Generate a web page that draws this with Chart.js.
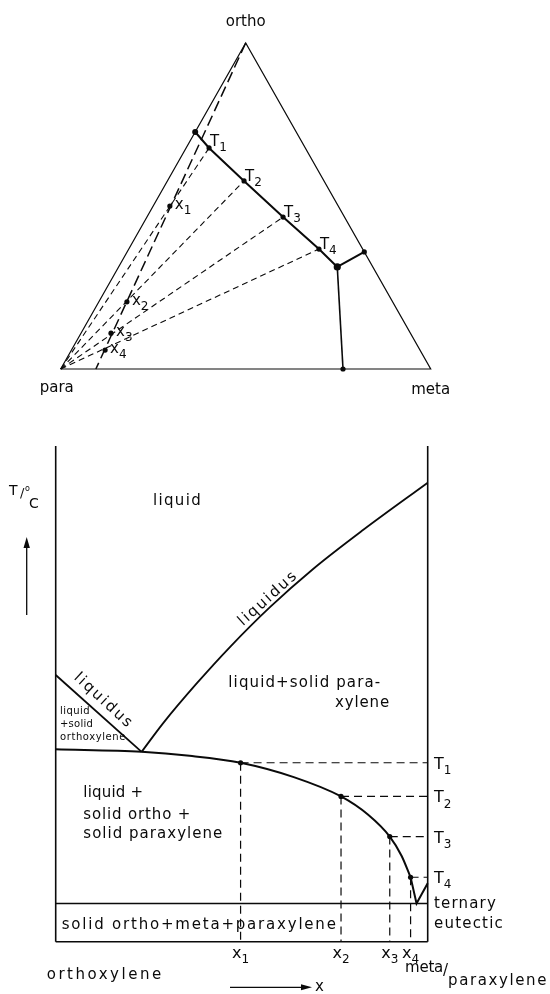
<!DOCTYPE html>
<html>
<head>
<meta charset="utf-8">
<script src="https://cdn.jsdelivr.net/npm/chart.js@4.4.1/dist/chart.umd.min.js"></script>
<style>
  html, body { margin: 0; padding: 0; background: #fff; }
  #wrap { position: relative; width: 550px; height: 994px; }
  canvas { position: absolute; left: 0; }
</style>
</head>
<body>
<div id="wrap">
  <canvas id="ternaryChart" width="550" height="400" style="top:0"></canvas>
  <canvas id="phaseChart" width="550" height="594" style="top:400px"></canvas>
</div>
<script>
// ---- ternary diagram, compositions as [meta, ortho] fractions (para is the rest)
const cornerPara = [0, 0];
const cornerMeta = [1, 0];
const cornerOrtho = [0, 1];
// ortho/para trough from the binary eutectic down to the ternary eutectic
const troughPoints = [[0, 0.727], [0.062, 0.678], [0.207, 0.577], [0.368, 0.466], [0.514, 0.368], [0.591, 0.313]];
const troughNames = ['', 'T1', 'T2', 'T3', 'T4', ''];
const orthoMetaEutectic = [0.641, 0.359];
const metaParaEutectic = [0.763, 0];
// section at constant meta/para ratio
const sectionEnd = [0.095, 0];
const sectionPoints = [[0.045, 0.500], [0.076, 0.206], [0.081, 0.110], [0.091, 0.058]];
const sectionNames = ['x1', 'x2', 'x3', 'x4'];

// ---- temperature section, x = fraction of meta/paraxylene, T in arbitrary units
const leftLiquidusX = [0, 0.231];
const leftLiquidusT = [53.8, 38.3];
const rightLiquidusX = [0.231, 0.289, 0.379, 0.469, 0.576, 0.692, 0.827, 1];
const rightLiquidusT = [38.3, 44.1, 52.1, 59.5, 67.5, 75.2, 83.1, 92.6];
const boundaryX = [0, 0.231, 0.36, 0.497, 0.64, 0.767, 0.84, 0.898, 0.93, 0.954];
const boundaryT = [38.8, 38.3, 37.5, 36.1, 33.2, 29.3, 25.6, 21.2, 17.3, 13.0];
const notchX = [0.954, 0.970, 1];
const notchT = [13.0, 7.7, 11.8];
const eutecticT = 7.7;
const tieX = [0.497, 0.767, 0.898, 0.954];
const tieT = [36.1, 29.3, 21.2, 13.0];
const tieNames = ['1', '2', '3', '4'];

const INK = '#0a0a0a';
const FONT = '"DejaVu Sans"';

function tern(p) { return { x: p[0] + p[1] / 2, y: p[1] }; }
function pts(xs, ys) { return xs.map((x, i) => ({ x: x, y: ys[i] })); }

function seg(data, width, dash, radius) {
  return {
    data: data, showLine: true, borderColor: INK, backgroundColor: INK,
    borderWidth: width, borderDash: dash || [], pointRadius: radius || 0,
    pointBorderWidth: 0, clip: false
  };
}

// text with optional stretch to a given width
function text(ctx, str, x, y, size, width) {
  ctx.font = size + 'px ' + FONT;
  ctx.letterSpacing = '0px';
  if (width) {
    const natural = ctx.measureText(str).width;
    ctx.letterSpacing = ((width - natural) / str.length) + 'px';
  }
  ctx.fillText(str, x, y);
  const w = ctx.measureText(str).width;
  ctx.letterSpacing = '0px';
  return w;
}

function subText(ctx, main, sub, x, y, size, align) {
  ctx.font = size + 'px ' + FONT;
  const wm = ctx.measureText(main).width;
  ctx.font = Math.round(size * 0.78) + 'px ' + FONT;
  const ws = ctx.measureText(sub).width;
  let left = x;
  if (align === 'center') left = x - (wm + ws) / 2;
  ctx.textAlign = 'left';
  text(ctx, main, left, y, size);
  text(ctx, sub, left + wm, y + size * 0.32, Math.round(size * 0.78));
}

function baseOptions(pad, ymin, ymax) {
  return {
    responsive: false, animation: false, events: [],
    layout: { padding: pad },
    plugins: { legend: { display: false }, tooltip: { enabled: false } },
    scales: {
      x: { type: 'linear', display: false, min: 0, max: 1 },
      y: { type: 'linear', display: false, min: ymin, max: ymax }
    }
  };
}

// ---------------- ternary chart
const ternaryLabels = {
  id: 'ternaryLabels',
  afterDatasetsDraw(chart) {
    const ctx = chart.ctx, sx = chart.scales.x, sy = chart.scales.y;
    const px = p => sx.getPixelForValue(tern(p).x);
    const py = p => sy.getPixelForValue(tern(p).y);
    ctx.save();
    ctx.fillStyle = INK;
    ctx.textBaseline = 'alphabetic';
    ctx.textAlign = 'center';
    text(ctx, 'ortho', px(cornerOrtho), 26, 15);
    text(ctx, 'para', px(cornerPara) - 4, 392, 15);
    text(ctx, 'meta', px(cornerMeta), 394, 15);
    troughPoints.forEach((p, i) => {
      if (!troughNames[i]) return;
      subText(ctx, 'T', troughNames[i].slice(1), px(p) + 1, py(p) - (i === 1 ? 2 : 0), 15);
    });
    sectionPoints.forEach((p, i) => {
      subText(ctx, 'x', sectionNames[i].slice(1), px(p) + 5, py(p) + 3, 15);
    });
    ctx.restore();
  }
};

const ternaryDatasets = [
  seg([cornerPara, cornerMeta, cornerOrtho, cornerPara].map(tern), 1.2),
  seg(troughPoints.map(tern), 2, null, [3, 2.6, 2.6, 2.6, 2.6, 3.6]),
  seg([troughPoints[5], orthoMetaEutectic].map(tern), 2, null, [0, 2.6]),
  seg([troughPoints[5], metaParaEutectic].map(tern), 1.6, null, [0, 2.6]),
  seg([cornerOrtho, sectionEnd].map(tern), 1.5, [11, 5]),
  { data: sectionPoints.map(tern), showLine: false, pointRadius: 2.6,
    backgroundColor: INK, pointBorderWidth: 0, clip: false }
];
troughPoints.slice(1, 5).forEach(p => {
  ternaryDatasets.push(seg([cornerPara, p].map(tern), 1.1, [6, 4]));
});

new Chart(document.getElementById('ternaryChart'), {
  type: 'scatter',
  data: { datasets: ternaryDatasets },
  options: baseOptions({ left: 60.7, right: 119.3, top: 43, bottom: 31 }, 0, 1),
  plugins: [ternaryLabels]
});

// ---------------- temperature section
const phaseLabels = {
  id: 'phaseLabels',
  afterDatasetsDraw(chart) {
    const ctx = chart.ctx, sx = chart.scales.x, sy = chart.scales.y;
    ctx.save();
    ctx.fillStyle = INK;
    ctx.strokeStyle = INK;
    ctx.textAlign = 'left';
    ctx.textBaseline = 'alphabetic';

    // axis caption and arrow
    text(ctx, 'T', 9, 95, 14);
    text(ctx, '/', 20, 97, 13);
    text(ctx, 'o', 25, 91, 8);
    text(ctx, 'C', 29, 108, 14);
    ctx.lineWidth = 1.3;
    ctx.beginPath(); ctx.moveTo(26.7, 215); ctx.lineTo(26.7, 146); ctx.stroke();
    ctx.beginPath(); ctx.moveTo(26.7, 137); ctx.lineTo(23.5, 148); ctx.lineTo(29.9, 148); ctx.closePath(); ctx.fill();

    // regions
    text(ctx, 'liquid', 153, 105, 15, 49);
    text(ctx, 'liquid+solid para-', 228.3, 287, 15, 153);
    text(ctx, 'xylene', 335, 307, 15, 55);
    text(ctx, 'liquid', 60, 314, 10, 30);
    text(ctx, '+solid', 60, 327.3, 10, 33);
    text(ctx, 'orthoxylene', 60, 340, 10, 66);
    text(ctx, 'liquid +', 83.3, 397.3, 15, 60);
    text(ctx, 'solid ortho +', 83.3, 419.3, 15, 108);
    text(ctx, 'solid paraxylene', 83.3, 438.3, 15, 140);
    text(ctx, 'solid ortho+meta+paraxylene', 61.7, 529, 15, 276);
    text(ctx, 'ternary', 434, 508, 15, 63);
    text(ctx, 'eutectic', 434, 528.3, 15, 70);

    // curve names along the liquidus lines
    [[268.3, 198.3, -42, 'liquidus'], [103.5, 301, 42.4, 'liquidus']].forEach(l => {
      ctx.save();
      ctx.translate(l[0], l[1]);
      ctx.rotate(l[2] * Math.PI / 180);
      ctx.textAlign = 'center';
      ctx.textBaseline = 'middle';
      text(ctx, l[3], 0, 0, 15, 75);
      ctx.restore();
    });

    // temperatures and compositions of the sections
    tieT.forEach((t, i) => {
      subText(ctx, 'T', tieNames[i], 434, sy.getPixelForValue(t) + 6, 16);
      subText(ctx, 'x', tieNames[i], sx.getPixelForValue(tieX[i]), 558, 16, 'center');
    });

    text(ctx, 'orthoxylene', 46.7, 579, 15, 117);
    ctx.lineWidth = 1.3;
    ctx.beginPath(); ctx.moveTo(230, 587.3); ctx.lineTo(303, 587.3); ctx.stroke();
    ctx.beginPath(); ctx.moveTo(312, 587.3); ctx.lineTo(301, 584.3); ctx.lineTo(301, 590.3); ctx.closePath(); ctx.fill();
    text(ctx, 'x', 315, 591, 15);
    const wm = text(ctx, 'meta', 405, 572, 15, 38);
    text(ctx, '/', 405 + wm, 575, 15);
    text(ctx, 'paraxylene', 405 + wm + 5, 585, 15, 100);
    ctx.restore();
  }
};

const phaseDatasets = [
  seg([{ x: 0, y: 0 }, { x: 0, y: 100 }], 1.6),
  seg([{ x: 1, y: 0 }, { x: 1, y: 100 }], 1.6),
  seg([{ x: 0, y: 0 }, { x: 1, y: 0 }], 1.6),
  seg([{ x: 0, y: eutecticT }, { x: 1, y: eutecticT }], 1.4),
  seg(pts(leftLiquidusX, leftLiquidusT), 1.8),
  Object.assign(seg(pts(rightLiquidusX, rightLiquidusT), 1.8), { cubicInterpolationMode: 'monotone' }),
  Object.assign(seg(pts(boundaryX, boundaryT), 2), { cubicInterpolationMode: 'monotone' }),
  seg(pts(notchX, notchT), 2),
  { data: pts(tieX, tieT), showLine: false, pointRadius: 2.6,
    backgroundColor: INK, pointBorderWidth: 0, clip: false }
];
tieX.forEach((x, i) => {
  phaseDatasets.push(seg([{ x: x, y: tieT[i] }, { x: 1, y: tieT[i] }], 1.2, [8, 5]));
  phaseDatasets.push(seg([{ x: x, y: tieT[i] }, { x: x, y: 0 }], 1.2, [8, 5]));
});

new Chart(document.getElementById('phaseChart'), {
  type: 'scatter',
  data: { datasets: phaseDatasets },
  options: baseOptions({ left: 55.7, right: 122.3, top: 46, bottom: 52.3 }, 0, 100),
  plugins: [phaseLabels]
});
</script>
</body>
</html>
